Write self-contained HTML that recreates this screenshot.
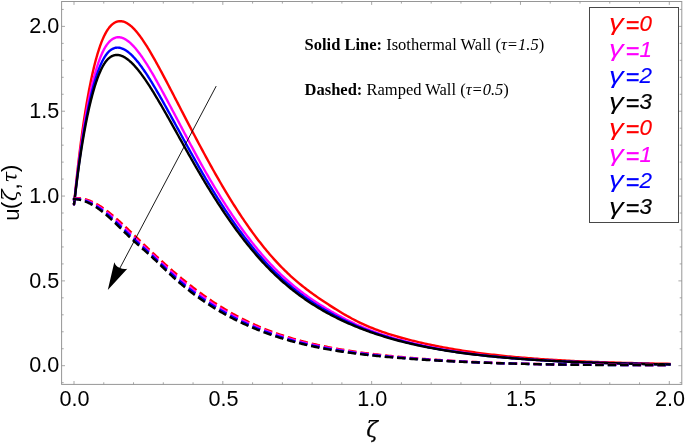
<!DOCTYPE html>
<html><head><meta charset="utf-8"><title>Velocity profile</title>
<style>html,body{margin:0;padding:0;background:#fff}svg{display:block}</style></head>
<body>
<svg width="685" height="443" viewBox="0 0 685 443">
<rect width="685" height="443" fill="#fff"/>
<g stroke="#969696" stroke-width="1" fill="none">
<rect x="61.6" y="1.5" width="620.1999999999999" height="382.9"/>
<path d="M74.00,384.4v-3.4M74.00,1.5v3.4M103.77,384.4v-2.1M103.77,1.5v2.1M133.53,384.4v-2.1M133.53,1.5v2.1M163.30,384.4v-2.1M163.30,1.5v2.1M193.06,384.4v-2.1M193.06,1.5v2.1M222.82,384.4v-3.4M222.82,1.5v3.4M252.59,384.4v-2.1M252.59,1.5v2.1M282.36,384.4v-2.1M282.36,1.5v2.1M312.12,384.4v-2.1M312.12,1.5v2.1M341.88,384.4v-2.1M341.88,1.5v2.1M371.65,384.4v-3.4M371.65,1.5v3.4M401.42,384.4v-2.1M401.42,1.5v2.1M431.18,384.4v-2.1M431.18,1.5v2.1M460.94,384.4v-2.1M460.94,1.5v2.1M490.71,384.4v-2.1M490.71,1.5v2.1M520.48,384.4v-3.4M520.48,1.5v3.4M550.24,384.4v-2.1M550.24,1.5v2.1M580.00,384.4v-2.1M580.00,1.5v2.1M609.77,384.4v-2.1M609.77,1.5v2.1M639.53,384.4v-2.1M639.53,1.5v2.1M669.30,384.4v-3.4M669.30,1.5v3.4M61.6,382.66h2.1M681.8,382.66h-2.1M61.6,365.70h3.4M681.8,365.70h-3.4M61.6,348.74h2.1M681.8,348.74h-2.1M61.6,331.77h2.1M681.8,331.77h-2.1M61.6,314.81h2.1M681.8,314.81h-2.1M61.6,297.84h2.1M681.8,297.84h-2.1M61.6,280.88h3.4M681.8,280.88h-3.4M61.6,263.91h2.1M681.8,263.91h-2.1M61.6,246.94h2.1M681.8,246.94h-2.1M61.6,229.98h2.1M681.8,229.98h-2.1M61.6,213.01h2.1M681.8,213.01h-2.1M61.6,196.05h3.4M681.8,196.05h-3.4M61.6,179.08h2.1M681.8,179.08h-2.1M61.6,162.12h2.1M681.8,162.12h-2.1M61.6,145.16h2.1M681.8,145.16h-2.1M61.6,128.19h2.1M681.8,128.19h-2.1M61.6,111.22h3.4M681.8,111.22h-3.4M61.6,94.26h2.1M681.8,94.26h-2.1M61.6,77.30h2.1M681.8,77.30h-2.1M61.6,60.33h2.1M681.8,60.33h-2.1M61.6,43.37h2.1M681.8,43.37h-2.1M61.6,26.40h3.4M681.8,26.40h-3.4M61.6,9.44h2.1M681.8,9.44h-2.1" stroke-width="0.8" stroke="#929292"/>
</g>
<g fill="none" stroke-width="2.4" stroke-linejoin="round" stroke-linecap="square">
<path d="M74.00,204.10 L74.00,204.19 L74.01,204.23 L74.02,204.19 L74.04,204.10 L74.06,203.95 L74.09,203.73 L74.12,203.46 L74.15,203.13 L74.19,202.74 L74.24,202.30 L74.29,201.80 L74.34,201.24 L74.40,200.64 L74.47,199.98 L74.54,199.27 L74.61,198.51 L74.69,197.70 L74.77,196.84 L74.86,195.94 L74.96,194.98 L75.05,193.99 L75.16,192.95 L75.27,191.86 L75.38,190.73 L75.49,189.56 L75.62,188.35 L75.74,187.10 L75.87,185.81 L76.01,184.48 L76.15,183.12 L76.30,181.72 L76.45,180.28 L76.60,178.81 L76.76,177.31 L76.93,175.78 L77.10,174.21 L77.27,172.62 L77.45,170.99 L77.64,169.34 L77.83,167.65 L78.02,165.95 L78.22,164.21 L78.42,162.45 L78.63,160.67 L78.84,158.87 L79.06,157.04 L79.28,155.20 L79.51,153.33 L79.74,151.44 L79.98,149.54 L80.22,147.62 L80.47,145.68 L80.72,143.73 L80.97,141.77 L81.23,139.79 L81.50,137.80 L81.77,135.80 L82.05,133.78 L82.33,131.76 L82.61,129.73 L82.90,127.70 L83.19,125.65 L83.49,123.60 L83.80,121.55 L84.10,119.49 L84.42,117.43 L84.74,115.37 L85.06,113.31 L85.39,111.25 L85.72,109.18 L86.06,107.13 L86.40,105.07 L86.74,103.02 L87.10,100.97 L87.45,98.93 L87.81,96.90 L88.18,94.87 L88.55,92.85 L88.93,90.84 L89.31,88.85 L89.69,86.86 L90.08,84.89 L90.48,82.93 L90.87,80.99 L91.28,79.06 L91.69,77.14 L92.10,75.25 L92.52,73.37 L92.94,71.51 L93.37,69.68 L93.80,67.86 L94.24,66.06 L94.68,64.29 L95.13,62.55 L95.58,60.82 L96.04,59.13 L96.50,57.46 L96.97,55.82 L97.44,54.20 L97.92,52.62 L98.40,51.07 L98.88,49.55 L99.37,48.06 L99.87,46.61 L100.37,45.19 L100.87,43.80 L101.38,42.45 L101.90,41.14 L102.41,39.87 L102.94,38.64 L103.47,37.44 L104.00,36.29 L104.54,35.18 L105.08,34.12 L105.63,33.09 L106.18,32.11 L106.74,31.17 L107.30,30.28 L107.87,29.42 L108.44,28.61 L109.01,27.84 L109.60,27.11 L110.18,26.43 L110.77,25.78 L111.37,25.18 L111.97,24.62 L112.57,24.11 L113.18,23.63 L113.80,23.20 L114.42,22.81 L115.04,22.46 L115.67,22.15 L116.30,21.88 L116.94,21.66 L117.59,21.48 L118.23,21.33 L118.89,21.23 L119.54,21.18 L120.21,21.16 L120.87,21.18 L121.55,21.25 L122.22,21.35 L122.90,21.50 L123.59,21.69 L124.28,21.92 L124.98,22.19 L125.68,22.50 L126.38,22.85 L127.09,23.25 L127.81,23.68 L128.53,24.16 L129.25,24.67 L129.98,25.23 L130.72,25.83 L131.46,26.46 L132.20,27.14 L132.95,27.86 L133.70,28.62 L134.46,29.41 L135.22,30.25 L135.99,31.13 L136.76,32.04 L137.54,32.99 L138.32,33.97 L139.11,34.99 L139.90,36.05 L140.70,37.14 L141.50,38.26 L142.31,39.41 L143.12,40.60 L143.93,41.82 L144.75,43.07 L145.58,44.34 L146.41,45.65 L147.24,46.99 L148.08,48.35 L148.93,49.74 L149.77,51.16 L150.63,52.60 L151.49,54.07 L152.35,55.56 L153.22,57.07 L154.09,58.61 L154.97,60.17 L155.85,61.75 L156.74,63.36 L157.63,64.98 L158.53,66.62 L159.43,68.28 L160.34,69.96 L161.25,71.65 L162.16,73.37 L163.08,75.09 L164.01,76.84 L164.94,78.60 L165.87,80.37 L166.81,82.16 L167.76,83.96 L168.71,85.77 L169.66,87.60 L170.62,89.44 L171.59,91.30 L172.55,93.16 L173.53,95.04 L174.51,96.93 L175.49,98.83 L176.48,100.74 L177.47,102.66 L178.47,104.60 L179.47,106.54 L180.47,108.49 L181.49,110.45 L182.50,112.41 L183.52,114.39 L184.55,116.37 L185.58,118.36 L186.62,120.36 L187.66,122.37 L188.70,124.38 L189.75,126.39 L190.81,128.42 L191.87,130.44 L192.93,132.48 L194.00,134.51 L195.07,136.55 L196.15,138.60 L197.23,140.64 L198.32,142.70 L199.42,144.75 L200.51,146.80 L201.62,148.86 L202.72,150.92 L203.84,152.98 L204.95,155.04 L206.07,157.10 L207.20,159.16 L208.33,161.23 L209.47,163.29 L210.61,165.34 L211.75,167.40 L212.90,169.46 L214.06,171.51 L215.22,173.56 L216.38,175.61 L217.55,177.66 L218.73,179.70 L219.91,181.74 L221.09,183.77 L222.28,185.80 L223.47,187.82 L224.67,189.84 L225.87,191.85 L227.08,193.85 L228.29,195.85 L229.51,197.85 L230.73,199.83 L231.96,201.81 L233.19,203.78 L234.43,205.74 L235.67,207.69 L236.92,209.63 L238.17,211.56 L239.42,213.49 L240.68,215.40 L241.95,217.30 L243.22,219.19 L244.49,221.07 L245.77,222.94 L247.06,224.80 L248.34,226.64 L249.64,228.47 L250.94,230.29 L252.24,232.10 L253.55,233.89 L254.86,235.66 L256.18,237.42 L257.50,239.17 L258.83,240.90 L260.16,242.61 L261.50,244.31 L262.84,246.00 L264.19,247.66 L265.54,249.31 L266.89,250.95 L268.25,252.56 L269.62,254.16 L270.99,255.75 L272.37,257.31 L273.75,258.86 L275.13,260.39 L276.52,261.90 L277.91,263.40 L279.31,264.87 L280.72,266.33 L282.13,267.77 L283.54,269.19 L284.96,270.60 L286.38,271.98 L287.81,273.34 L289.24,274.69 L290.68,276.01 L292.12,277.32 L293.57,278.61 L295.02,279.88 L296.47,281.13 L297.94,282.36 L299.40,283.58 L300.87,284.78 L302.35,285.97 L303.83,287.14 L305.31,288.30 L306.80,289.45 L308.30,290.58 L309.80,291.70 L311.30,292.80 L312.81,293.90 L314.33,294.98 L315.84,296.06 L317.37,297.12 L318.90,298.18 L320.43,299.23 L321.97,300.27 L323.51,301.30 L325.06,302.32 L326.61,303.34 L328.17,304.36 L329.73,305.37 L331.29,306.37 L332.86,307.37 L334.44,308.36 L336.02,309.35 L337.61,310.33 L339.20,311.30 L340.79,312.26 L342.39,313.21 L344.00,314.16 L345.61,315.09 L347.22,316.01 L348.84,316.92 L350.46,317.81 L352.09,318.69 L353.73,319.56 L355.36,320.41 L357.01,321.24 L358.66,322.06 L360.31,322.86 L361.96,323.64 L363.63,324.41 L365.29,325.16 L366.97,325.89 L368.64,326.60 L370.32,327.30 L372.01,327.98 L373.70,328.65 L375.40,329.31 L377.10,329.95 L378.80,330.58 L380.51,331.19 L382.23,331.79 L383.95,332.38 L385.67,332.96 L387.40,333.53 L389.13,334.09 L390.87,334.63 L392.62,335.17 L394.36,335.70 L396.12,336.22 L397.87,336.73 L399.64,337.24 L401.40,337.73 L403.18,338.22 L404.95,338.70 L406.73,339.18 L408.52,339.65 L410.31,340.11 L412.11,340.56 L413.91,341.01 L415.72,341.45 L417.53,341.89 L419.34,342.32 L421.16,342.74 L422.99,343.15 L424.82,343.56 L426.65,343.97 L428.49,344.37 L430.33,344.76 L432.18,345.14 L434.03,345.52 L435.89,345.90 L437.76,346.27 L439.62,346.63 L441.50,346.99 L443.37,347.34 L445.26,347.69 L447.14,348.03 L449.03,348.37 L450.93,348.70 L452.83,349.03 L454.74,349.35 L456.65,349.66 L458.56,349.98 L460.49,350.28 L462.41,350.59 L464.34,350.88 L466.28,351.18 L468.21,351.46 L470.16,351.75 L472.11,352.03 L474.06,352.30 L476.02,352.57 L477.98,352.84 L479.95,353.10 L481.93,353.35 L483.90,353.61 L485.89,353.86 L487.87,354.10 L489.87,354.34 L491.86,354.57 L493.86,354.81 L495.87,355.03 L497.88,355.26 L499.90,355.48 L501.92,355.69 L503.94,355.90 L505.97,356.11 L508.01,356.32 L510.05,356.52 L512.09,356.71 L514.14,356.91 L516.20,357.09 L518.26,357.28 L520.32,357.46 L522.39,357.64 L524.46,357.82 L526.54,357.99 L528.63,358.16 L530.71,358.32 L532.81,358.48 L534.90,358.64 L537.01,358.80 L539.11,358.95 L541.22,359.10 L543.34,359.24 L545.46,359.39 L547.59,359.53 L549.72,359.67 L551.85,359.80 L553.99,359.93 L556.14,360.06 L558.29,360.19 L560.45,360.31 L562.60,360.43 L564.77,360.55 L566.94,360.66 L569.11,360.77 L571.29,360.88 L573.47,360.99 L575.66,361.10 L577.86,361.20 L580.05,361.30 L582.26,361.40 L584.46,361.50 L586.68,361.59 L588.89,361.68 L591.11,361.77 L593.34,361.86 L595.57,361.94 L597.81,362.03 L600.05,362.11 L602.29,362.19 L604.55,362.27 L606.80,362.34 L609.06,362.42 L611.33,362.49 L613.59,362.56 L615.87,362.63 L618.15,362.70 L620.43,362.76 L622.72,362.83 L625.01,362.89 L627.31,362.95 L629.62,363.01 L631.92,363.07 L634.24,363.13 L636.55,363.19 L638.88,363.24 L641.20,363.29 L643.53,363.35 L645.87,363.40 L648.21,363.45 L650.56,363.50 L652.91,363.55 L655.27,363.60 L657.63,363.64 L659.99,363.69 L662.36,363.74 L664.74,363.78 L667.12,363.82 L669.50,363.87" stroke="#ff0000"/>
<path d="M74.00,204.10 L74.00,204.21 L74.01,204.27 L74.02,204.26 L74.04,204.19 L74.06,204.07 L74.09,203.89 L74.12,203.66 L74.15,203.37 L74.19,203.02 L74.24,202.63 L74.29,202.18 L74.34,201.68 L74.40,201.13 L74.47,200.53 L74.54,199.88 L74.61,199.18 L74.69,198.44 L74.77,197.65 L74.86,196.82 L74.96,195.95 L75.05,195.03 L75.16,194.06 L75.27,193.06 L75.38,192.02 L75.49,190.94 L75.62,189.82 L75.74,188.66 L75.87,187.46 L76.01,186.23 L76.15,184.97 L76.30,183.67 L76.45,182.34 L76.60,180.97 L76.76,179.58 L76.93,178.15 L77.10,176.70 L77.27,175.21 L77.45,173.70 L77.64,172.16 L77.83,170.60 L78.02,169.01 L78.22,167.40 L78.42,165.77 L78.63,164.11 L78.84,162.43 L79.06,160.73 L79.28,159.02 L79.51,157.28 L79.74,155.53 L79.98,153.76 L80.22,151.97 L80.47,150.17 L80.72,148.35 L80.97,146.53 L81.23,144.69 L81.50,142.84 L81.77,140.98 L82.05,139.11 L82.33,137.23 L82.61,135.34 L82.90,133.45 L83.19,131.55 L83.49,129.65 L83.80,127.74 L84.10,125.83 L84.42,123.91 L84.74,122.00 L85.06,120.09 L85.39,118.17 L85.72,116.26 L86.06,114.35 L86.40,112.45 L86.74,110.55 L87.10,108.65 L87.45,106.76 L87.81,104.88 L88.18,103.00 L88.55,101.13 L88.93,99.28 L89.31,97.43 L89.69,95.60 L90.08,93.78 L90.48,91.97 L90.87,90.17 L91.28,88.39 L91.69,86.63 L92.10,84.88 L92.52,83.16 L92.94,81.45 L93.37,79.76 L93.80,78.09 L94.24,76.44 L94.68,74.82 L95.13,73.21 L95.58,71.64 L96.04,70.08 L96.50,68.56 L96.97,67.06 L97.44,65.59 L97.92,64.15 L98.40,62.73 L98.88,61.35 L99.37,60.00 L99.87,58.68 L100.37,57.40 L100.87,56.15 L101.38,54.93 L101.90,53.76 L102.41,52.61 L102.94,51.51 L103.47,50.45 L104.00,49.42 L104.54,48.44 L105.08,47.49 L105.63,46.59 L106.18,45.73 L106.74,44.91 L107.30,44.14 L107.87,43.40 L108.44,42.71 L109.01,42.06 L109.60,41.45 L110.18,40.88 L110.77,40.36 L111.37,39.87 L111.97,39.43 L112.57,39.02 L113.18,38.66 L113.80,38.33 L114.42,38.05 L115.04,37.80 L115.67,37.60 L116.30,37.43 L116.94,37.31 L117.59,37.22 L118.23,37.17 L118.89,37.18 L119.54,37.23 L120.21,37.33 L120.87,37.47 L121.55,37.64 L122.22,37.86 L122.90,38.11 L123.59,38.40 L124.28,38.73 L124.98,39.09 L125.68,39.49 L126.38,39.94 L127.09,40.41 L127.81,40.93 L128.53,41.48 L129.25,42.07 L129.98,42.70 L130.72,43.36 L131.46,44.06 L132.20,44.79 L132.95,45.56 L133.70,46.36 L134.46,47.20 L135.22,48.08 L135.99,48.99 L136.76,49.93 L137.54,50.90 L138.32,51.91 L139.11,52.95 L139.90,54.02 L140.70,55.12 L141.50,56.25 L142.31,57.42 L143.12,58.61 L143.93,59.83 L144.75,61.07 L145.58,62.35 L146.41,63.65 L147.24,64.98 L148.08,66.33 L148.93,67.71 L149.77,69.11 L150.63,70.54 L151.49,71.99 L152.35,73.46 L153.22,74.95 L154.09,76.47 L154.97,78.00 L155.85,79.56 L156.74,81.14 L157.63,82.73 L158.53,84.35 L159.43,85.98 L160.34,87.63 L161.25,89.30 L162.16,90.98 L163.08,92.68 L164.01,94.40 L164.94,96.13 L165.87,97.87 L166.81,99.63 L167.76,101.40 L168.71,103.19 L169.66,104.98 L170.62,106.79 L171.59,108.62 L172.55,110.45 L173.53,112.30 L174.51,114.15 L175.49,116.02 L176.48,117.89 L177.47,119.78 L178.47,121.67 L179.47,123.58 L180.47,125.49 L181.49,127.41 L182.50,129.33 L183.52,131.27 L184.55,133.21 L185.58,135.15 L186.62,137.11 L187.66,139.06 L188.70,141.03 L189.75,142.99 L190.81,144.96 L191.87,146.94 L192.93,148.91 L194.00,150.89 L195.07,152.88 L196.15,154.86 L197.23,156.85 L198.32,158.83 L199.42,160.82 L200.51,162.81 L201.62,164.79 L202.72,166.78 L203.84,168.77 L204.95,170.75 L206.07,172.73 L207.20,174.71 L208.33,176.67 L209.47,178.61 L210.61,180.55 L211.75,182.48 L212.90,184.41 L214.06,186.33 L215.22,188.25 L216.38,190.17 L217.55,192.08 L218.73,193.99 L219.91,195.89 L221.09,197.79 L222.28,199.68 L223.47,201.57 L224.67,203.44 L225.87,205.32 L227.08,207.18 L228.29,209.04 L229.51,210.89 L230.73,212.74 L231.96,214.57 L233.19,216.40 L234.43,218.22 L235.67,220.03 L236.92,221.83 L238.17,223.62 L239.42,225.40 L240.68,227.18 L241.95,228.94 L243.22,230.69 L244.49,232.43 L245.77,234.16 L247.06,235.87 L248.34,237.58 L249.64,239.27 L250.94,240.95 L252.24,242.62 L253.55,244.27 L254.86,245.92 L256.18,247.54 L257.50,249.16 L258.83,250.76 L260.16,252.34 L261.50,253.91 L262.84,255.47 L264.19,257.01 L265.54,258.54 L266.89,260.05 L268.25,261.54 L269.62,263.02 L270.99,264.48 L272.37,265.93 L273.75,267.35 L275.13,268.77 L276.52,270.16 L277.91,271.55 L279.31,272.91 L280.72,274.26 L282.13,275.59 L283.54,276.91 L284.96,278.20 L286.38,279.49 L287.81,280.75 L289.24,282.00 L290.68,283.24 L292.12,284.46 L293.57,285.66 L295.02,286.84 L296.47,288.02 L297.94,289.17 L299.40,290.31 L300.87,291.44 L302.35,292.55 L303.83,293.65 L305.31,294.74 L306.80,295.81 L308.30,296.87 L309.80,297.92 L311.30,298.95 L312.81,299.98 L314.33,300.99 L315.84,301.99 L317.37,302.98 L318.90,303.96 L320.43,304.92 L321.97,305.88 L323.51,306.83 L325.06,307.77 L326.61,308.70 L328.17,309.62 L329.73,310.53 L331.29,311.43 L332.86,312.33 L334.44,313.22 L336.02,314.09 L337.61,314.96 L339.20,315.82 L340.79,316.67 L342.39,317.52 L344.00,318.37 L345.61,319.20 L347.22,320.03 L348.84,320.84 L350.46,321.65 L352.09,322.44 L353.73,323.21 L355.36,323.98 L357.01,324.73 L358.66,325.47 L360.31,326.20 L361.96,326.91 L363.63,327.61 L365.29,328.29 L366.97,328.97 L368.64,329.63 L370.32,330.28 L372.01,330.92 L373.70,331.55 L375.40,332.16 L377.10,332.77 L378.80,333.37 L380.51,333.95 L382.23,334.53 L383.95,335.09 L385.67,335.65 L387.40,336.20 L389.13,336.73 L390.87,337.26 L392.62,337.79 L394.36,338.30 L396.12,338.80 L397.87,339.30 L399.64,339.79 L401.40,340.27 L403.18,340.75 L404.95,341.21 L406.73,341.67 L408.52,342.13 L410.31,342.57 L412.11,343.01 L413.91,343.44 L415.72,343.87 L417.53,344.29 L419.34,344.70 L421.16,345.10 L422.99,345.50 L424.82,345.90 L426.65,346.28 L428.49,346.66 L430.33,347.03 L432.18,347.40 L434.03,347.76 L435.89,348.12 L437.76,348.47 L439.62,348.81 L441.50,349.15 L443.37,349.48 L445.26,349.81 L447.14,350.13 L449.03,350.44 L450.93,350.75 L452.83,351.06 L454.74,351.36 L456.65,351.65 L458.56,351.94 L460.49,352.22 L462.41,352.50 L464.34,352.78 L466.28,353.05 L468.21,353.31 L470.16,353.57 L472.11,353.82 L474.06,354.07 L476.02,354.32 L477.98,354.56 L479.95,354.80 L481.93,355.03 L483.90,355.26 L485.89,355.48 L487.87,355.70 L489.87,355.92 L491.86,356.13 L493.86,356.34 L495.87,356.55 L497.88,356.75 L499.90,356.94 L501.92,357.14 L503.94,357.33 L505.97,357.52 L508.01,357.70 L510.05,357.88 L512.09,358.05 L514.14,358.23 L516.20,358.40 L518.26,358.56 L520.32,358.73 L522.39,358.88 L524.46,359.03 L526.54,359.18 L528.63,359.33 L530.71,359.47 L532.81,359.61 L534.90,359.75 L537.01,359.89 L539.11,360.02 L541.22,360.15 L543.34,360.28 L545.46,360.40 L547.59,360.52 L549.72,360.64 L551.85,360.76 L553.99,360.87 L556.14,360.99 L558.29,361.10 L560.45,361.20 L562.60,361.31 L564.77,361.41 L566.94,361.51 L569.11,361.61 L571.29,361.71 L573.47,361.80 L575.66,361.89 L577.86,361.98 L580.05,362.07 L582.26,362.16 L584.46,362.24 L586.68,362.33 L588.89,362.41 L591.11,362.49 L593.34,362.56 L595.57,362.64 L597.81,362.71 L600.05,362.79 L602.29,362.86 L604.55,362.92 L606.80,362.99 L609.06,363.06 L611.33,363.12 L613.59,363.19 L615.87,363.25 L618.15,363.31 L620.43,363.37 L622.72,363.42 L625.01,363.48 L627.31,363.54 L629.62,363.59 L631.92,363.64 L634.24,363.70 L636.55,363.75 L638.88,363.80 L641.20,363.85 L643.53,363.89 L645.87,363.94 L648.21,363.99 L650.56,364.03 L652.91,364.08 L655.27,364.12 L657.63,364.16 L659.99,364.21 L662.36,364.25 L664.74,364.29 L667.12,364.33 L669.50,364.37" stroke="#ff00ff"/>
<path d="M74.00,204.10 L74.00,204.22 L74.01,204.29 L74.02,204.30 L74.04,204.25 L74.06,204.15 L74.09,204.00 L74.12,203.79 L74.15,203.52 L74.19,203.21 L74.24,202.84 L74.29,202.43 L74.34,201.96 L74.40,201.45 L74.47,200.89 L74.54,200.28 L74.61,199.63 L74.69,198.93 L74.77,198.19 L74.86,197.41 L74.96,196.58 L75.05,195.71 L75.16,194.80 L75.27,193.85 L75.38,192.87 L75.49,191.84 L75.62,190.78 L75.74,189.68 L75.87,188.55 L76.01,187.39 L76.15,186.19 L76.30,184.95 L76.45,183.69 L76.60,182.40 L76.76,181.07 L76.93,179.72 L77.10,178.34 L77.27,176.93 L77.45,175.49 L77.64,174.03 L77.83,172.55 L78.02,171.04 L78.22,169.51 L78.42,167.95 L78.63,166.38 L78.84,164.78 L79.06,163.17 L79.28,161.54 L79.51,159.89 L79.74,158.22 L79.98,156.54 L80.22,154.84 L80.47,153.13 L80.72,151.40 L80.97,149.67 L81.23,147.92 L81.50,146.16 L81.77,144.39 L82.05,142.61 L82.33,140.83 L82.61,139.04 L82.90,137.24 L83.19,135.44 L83.49,133.63 L83.80,131.82 L84.10,130.01 L84.42,128.19 L84.74,126.37 L85.06,124.56 L85.39,122.74 L85.72,120.93 L86.06,119.12 L86.40,117.31 L86.74,115.51 L87.10,113.71 L87.45,111.92 L87.81,110.14 L88.18,108.36 L88.55,106.60 L88.93,104.84 L89.31,103.09 L89.69,101.36 L90.08,99.64 L90.48,97.93 L90.87,96.23 L91.28,94.55 L91.69,92.89 L92.10,91.24 L92.52,89.61 L92.94,88.00 L93.37,86.41 L93.80,84.84 L94.24,83.28 L94.68,81.76 L95.13,80.25 L95.58,78.77 L96.04,77.31 L96.50,75.88 L96.97,74.48 L97.44,73.10 L97.92,71.75 L98.40,70.43 L98.88,69.14 L99.37,67.88 L99.87,66.65 L100.37,65.46 L100.87,64.29 L101.38,63.17 L101.90,62.08 L102.41,61.02 L102.94,60.00 L103.47,59.02 L104.00,58.08 L104.54,57.18 L105.08,56.31 L105.63,55.49 L106.18,54.71 L106.74,53.98 L107.30,53.28 L107.87,52.63 L108.44,52.01 L109.01,51.44 L109.60,50.91 L110.18,50.42 L110.77,49.97 L111.37,49.56 L111.97,49.19 L112.57,48.86 L113.18,48.57 L113.80,48.31 L114.42,48.10 L115.04,47.92 L115.67,47.79 L116.30,47.69 L116.94,47.63 L117.59,47.61 L118.23,47.62 L118.89,47.68 L119.54,47.78 L120.21,47.91 L120.87,48.09 L121.55,48.30 L122.22,48.54 L122.90,48.82 L123.59,49.14 L124.28,49.49 L124.98,49.88 L125.68,50.30 L126.38,50.76 L127.09,51.25 L127.81,51.78 L128.53,52.34 L129.25,52.93 L129.98,53.56 L130.72,54.22 L131.46,54.92 L132.20,55.65 L132.95,56.40 L133.70,57.20 L134.46,58.02 L135.22,58.88 L135.99,59.76 L136.76,60.68 L137.54,61.63 L138.32,62.60 L139.11,63.61 L139.90,64.65 L140.70,65.71 L141.50,66.81 L142.31,67.93 L143.12,69.08 L143.93,70.25 L144.75,71.46 L145.58,72.68 L146.41,73.94 L147.24,75.22 L148.08,76.52 L148.93,77.85 L149.77,79.20 L150.63,80.57 L151.49,81.96 L152.35,83.38 L153.22,84.82 L154.09,86.28 L154.97,87.76 L155.85,89.26 L156.74,90.78 L157.63,92.31 L158.53,93.87 L159.43,95.44 L160.34,97.03 L161.25,98.64 L162.16,100.27 L163.08,101.91 L164.01,103.56 L164.94,105.23 L165.87,106.92 L166.81,108.61 L167.76,110.33 L168.71,112.05 L169.66,113.79 L170.62,115.54 L171.59,117.30 L172.55,119.08 L173.53,120.86 L174.51,122.66 L175.49,124.46 L176.48,126.28 L177.47,128.10 L178.47,129.94 L179.47,131.78 L180.47,133.63 L181.49,135.49 L182.50,137.35 L183.52,139.22 L184.55,141.10 L185.58,142.98 L186.62,144.87 L187.66,146.76 L188.70,148.66 L189.75,150.56 L190.81,152.47 L191.87,154.37 L192.93,156.28 L194.00,158.20 L195.07,160.11 L196.15,162.03 L197.23,163.95 L198.32,165.86 L199.42,167.78 L200.51,169.70 L201.62,171.61 L202.72,173.53 L203.84,175.44 L204.95,177.35 L206.07,179.26 L207.20,181.17 L208.33,183.07 L209.47,184.95 L210.61,186.84 L211.75,188.72 L212.90,190.59 L214.06,192.46 L215.22,194.33 L216.38,196.19 L217.55,198.05 L218.73,199.90 L219.91,201.75 L221.09,203.59 L222.28,205.42 L223.47,207.25 L224.67,209.08 L225.87,210.89 L227.08,212.70 L228.29,214.50 L229.51,216.29 L230.73,218.08 L231.96,219.86 L233.19,221.63 L234.43,223.39 L235.67,225.14 L236.92,226.88 L238.17,228.61 L239.42,230.34 L240.68,232.05 L241.95,233.75 L243.22,235.44 L244.49,237.13 L245.77,238.80 L247.06,240.46 L248.34,242.10 L249.64,243.74 L250.94,245.36 L252.24,246.98 L253.55,248.57 L254.86,250.16 L256.18,251.73 L257.50,253.29 L258.83,254.84 L260.16,256.37 L261.50,257.89 L262.84,259.39 L264.19,260.88 L265.54,262.35 L266.89,263.81 L268.25,265.25 L269.62,266.68 L270.99,268.09 L272.37,269.49 L273.75,270.87 L275.13,272.23 L276.52,273.58 L277.91,274.92 L279.31,276.24 L280.72,277.54 L282.13,278.82 L283.54,280.10 L284.96,281.35 L286.38,282.59 L287.81,283.82 L289.24,285.03 L290.68,286.23 L292.12,287.41 L293.57,288.58 L295.02,289.73 L296.47,290.87 L297.94,291.99 L299.40,293.10 L300.87,294.19 L302.35,295.28 L303.83,296.35 L305.31,297.40 L306.80,298.45 L308.30,299.48 L309.80,300.49 L311.30,301.50 L312.81,302.49 L314.33,303.47 L315.84,304.44 L317.37,305.40 L318.90,306.35 L320.43,307.28 L321.97,308.21 L323.51,309.12 L325.06,310.02 L326.61,310.91 L328.17,311.80 L329.73,312.67 L331.29,313.53 L332.86,314.38 L334.44,315.22 L336.02,316.06 L337.61,316.88 L339.20,317.69 L340.79,318.49 L342.39,319.29 L344.00,320.08 L345.61,320.87 L347.22,321.64 L348.84,322.40 L350.46,323.15 L352.09,323.89 L353.73,324.62 L355.36,325.33 L357.01,326.04 L358.66,326.74 L360.31,327.42 L361.96,328.10 L363.63,328.76 L365.29,329.41 L366.97,330.05 L368.64,330.69 L370.32,331.31 L372.01,331.92 L373.70,332.52 L375.40,333.12 L377.10,333.70 L378.80,334.28 L380.51,334.84 L382.23,335.40 L383.95,335.95 L385.67,336.49 L387.40,337.02 L389.13,337.54 L390.87,338.06 L392.62,338.57 L394.36,339.07 L396.12,339.56 L397.87,340.04 L399.64,340.52 L401.40,340.99 L403.18,341.45 L404.95,341.90 L406.73,342.35 L408.52,342.79 L410.31,343.23 L412.11,343.65 L413.91,344.07 L415.72,344.49 L417.53,344.89 L419.34,345.29 L421.16,345.69 L422.99,346.07 L424.82,346.45 L426.65,346.83 L428.49,347.20 L430.33,347.56 L432.18,347.92 L434.03,348.27 L435.89,348.61 L437.76,348.95 L439.62,349.28 L441.50,349.61 L443.37,349.93 L445.26,350.25 L447.14,350.56 L449.03,350.86 L450.93,351.16 L452.83,351.46 L454.74,351.75 L456.65,352.03 L458.56,352.31 L460.49,352.58 L462.41,352.85 L464.34,353.12 L466.28,353.38 L468.21,353.63 L470.16,353.88 L472.11,354.13 L474.06,354.37 L476.02,354.61 L477.98,354.84 L479.95,355.07 L481.93,355.29 L483.90,355.52 L485.89,355.73 L487.87,355.94 L489.87,356.15 L491.86,356.36 L493.86,356.56 L495.87,356.76 L497.88,356.95 L499.90,357.14 L501.92,357.33 L503.94,357.51 L505.97,357.69 L508.01,357.87 L510.05,358.05 L512.09,358.22 L514.14,358.38 L516.20,358.55 L518.26,358.71 L520.32,358.87 L522.39,359.02 L524.46,359.17 L526.54,359.32 L528.63,359.46 L530.71,359.60 L532.81,359.74 L534.90,359.87 L537.01,360.01 L539.11,360.14 L541.22,360.27 L543.34,360.39 L545.46,360.51 L547.59,360.63 L549.72,360.75 L551.85,360.87 L553.99,360.98 L556.14,361.09 L558.29,361.20 L560.45,361.30 L562.60,361.41 L564.77,361.51 L566.94,361.61 L569.11,361.70 L571.29,361.80 L573.47,361.89 L575.66,361.98 L577.86,362.07 L580.05,362.16 L582.26,362.24 L584.46,362.33 L586.68,362.41 L588.89,362.49 L591.11,362.57 L593.34,362.64 L595.57,362.72 L597.81,362.79 L600.05,362.86 L602.29,362.93 L604.55,363.00 L606.80,363.06 L609.06,363.13 L611.33,363.19 L613.59,363.26 L615.87,363.32 L618.15,363.38 L620.43,363.43 L622.72,363.49 L625.01,363.55 L627.31,363.60 L629.62,363.65 L631.92,363.71 L634.24,363.76 L636.55,363.81 L638.88,363.86 L641.20,363.91 L643.53,363.95 L645.87,364.00 L648.21,364.05 L650.56,364.09 L652.91,364.13 L655.27,364.18 L657.63,364.22 L659.99,364.26 L662.36,364.30 L664.74,364.34 L667.12,364.38 L669.50,364.42" stroke="#0000ff"/>
<path d="M74.00,204.10 L74.00,204.23 L74.01,204.31 L74.02,204.33 L74.04,204.30 L74.06,204.21 L74.09,204.07 L74.12,203.88 L74.15,203.63 L74.19,203.34 L74.24,203.00 L74.29,202.61 L74.34,202.17 L74.40,201.68 L74.47,201.15 L74.54,200.57 L74.61,199.94 L74.69,199.28 L74.77,198.57 L74.86,197.82 L74.96,197.03 L75.05,196.20 L75.16,195.33 L75.27,194.42 L75.38,193.47 L75.49,192.49 L75.62,191.47 L75.74,190.41 L75.87,189.33 L76.01,188.20 L76.15,187.05 L76.30,185.87 L76.45,184.65 L76.60,183.40 L76.76,182.13 L76.93,180.83 L77.10,179.50 L77.27,178.14 L77.45,176.76 L77.64,175.36 L77.83,173.93 L78.02,172.47 L78.22,171.00 L78.42,169.50 L78.63,167.99 L78.84,166.45 L79.06,164.90 L79.28,163.32 L79.51,161.73 L79.74,160.13 L79.98,158.51 L80.22,156.87 L80.47,155.23 L80.72,153.57 L80.97,151.89 L81.23,150.21 L81.50,148.52 L81.77,146.82 L82.05,145.11 L82.33,143.39 L82.61,141.66 L82.90,139.93 L83.19,138.20 L83.49,136.46 L83.80,134.72 L84.10,132.97 L84.42,131.23 L84.74,129.48 L85.06,127.73 L85.39,125.99 L85.72,124.24 L86.06,122.50 L86.40,120.77 L86.74,119.04 L87.10,117.31 L87.45,115.59 L87.81,113.88 L88.18,112.17 L88.55,110.47 L88.93,108.79 L89.31,107.11 L89.69,105.45 L90.08,103.80 L90.48,102.16 L90.87,100.53 L91.28,98.92 L91.69,97.33 L92.10,95.75 L92.52,94.19 L92.94,92.65 L93.37,91.13 L93.80,89.62 L94.24,88.14 L94.68,86.68 L95.13,85.24 L95.58,83.83 L96.04,82.44 L96.50,81.08 L96.97,79.74 L97.44,78.43 L97.92,77.14 L98.40,75.89 L98.88,74.66 L99.37,73.47 L99.87,72.31 L100.37,71.17 L100.87,70.07 L101.38,69.01 L101.90,67.98 L102.41,66.98 L102.94,66.03 L103.47,65.11 L104.00,64.22 L104.54,63.38 L105.08,62.57 L105.63,61.81 L106.18,61.09 L106.74,60.41 L107.30,59.77 L107.87,59.17 L108.44,58.61 L109.01,58.10 L109.60,57.62 L110.18,57.19 L110.77,56.79 L111.37,56.43 L111.97,56.12 L112.57,55.84 L113.18,55.60 L113.80,55.40 L114.42,55.23 L115.04,55.11 L115.67,55.02 L116.30,54.97 L116.94,54.96 L117.59,54.98 L118.23,55.04 L118.89,55.13 L119.54,55.26 L120.21,55.43 L120.87,55.63 L121.55,55.87 L122.22,56.14 L122.90,56.44 L123.59,56.78 L124.28,57.16 L124.98,57.56 L125.68,58.00 L126.38,58.47 L127.09,58.98 L127.81,59.52 L128.53,60.09 L129.25,60.69 L129.98,61.32 L130.72,61.98 L131.46,62.68 L132.20,63.40 L132.95,64.16 L133.70,64.94 L134.46,65.76 L135.22,66.60 L135.99,67.48 L136.76,68.38 L137.54,69.31 L138.32,70.27 L139.11,71.26 L139.90,72.27 L140.70,73.32 L141.50,74.38 L142.31,75.48 L143.12,76.60 L143.93,77.75 L144.75,78.93 L145.58,80.12 L146.41,81.35 L147.24,82.59 L148.08,83.86 L148.93,85.16 L149.77,86.47 L150.63,87.81 L151.49,89.17 L152.35,90.55 L153.22,91.95 L154.09,93.37 L154.97,94.82 L155.85,96.28 L156.74,97.76 L157.63,99.26 L158.53,100.77 L159.43,102.31 L160.34,103.86 L161.25,105.43 L162.16,107.01 L163.08,108.61 L164.01,110.23 L164.94,111.86 L165.87,113.50 L166.81,115.16 L167.76,116.84 L168.71,118.52 L169.66,120.22 L170.62,121.93 L171.59,123.66 L172.55,125.39 L173.53,127.13 L174.51,128.89 L175.49,130.65 L176.48,132.43 L177.47,134.21 L178.47,136.01 L179.47,137.81 L180.47,139.61 L181.49,141.43 L182.50,143.25 L183.52,145.08 L184.55,146.92 L185.58,148.76 L186.62,150.60 L187.66,152.45 L188.70,154.30 L189.75,156.16 L190.81,158.02 L191.87,159.89 L192.93,161.75 L194.00,163.62 L195.07,165.49 L196.15,167.36 L197.23,169.23 L198.32,171.10 L199.42,172.97 L200.51,174.84 L201.62,176.71 L202.72,178.57 L203.84,180.44 L204.95,182.30 L206.07,184.15 L207.20,186.01 L208.33,187.86 L209.47,189.71 L210.61,191.55 L211.75,193.39 L212.90,195.23 L214.06,197.06 L215.22,198.89 L216.38,200.71 L217.55,202.53 L218.73,204.34 L219.91,206.14 L221.09,207.94 L222.28,209.73 L223.47,211.52 L224.67,213.30 L225.87,215.07 L227.08,216.84 L228.29,218.59 L229.51,220.34 L230.73,222.09 L231.96,223.82 L233.19,225.54 L234.43,227.26 L235.67,228.97 L236.92,230.67 L238.17,232.36 L239.42,234.03 L240.68,235.70 L241.95,237.36 L243.22,239.01 L244.49,240.65 L245.77,242.28 L247.06,243.89 L248.34,245.50 L249.64,247.09 L250.94,248.67 L252.24,250.24 L253.55,251.80 L254.86,253.34 L256.18,254.87 L257.50,256.39 L258.83,257.90 L260.16,259.39 L261.50,260.87 L262.84,262.33 L264.19,263.78 L265.54,265.21 L266.89,266.63 L268.25,268.04 L269.62,269.43 L270.99,270.80 L272.37,272.16 L273.75,273.51 L275.13,274.83 L276.52,276.15 L277.91,277.45 L279.31,278.73 L280.72,280.00 L282.13,281.25 L283.54,282.49 L284.96,283.71 L286.38,284.92 L287.81,286.12 L289.24,287.30 L290.68,288.47 L292.12,289.62 L293.57,290.76 L295.02,291.89 L296.47,293.00 L297.94,294.10 L299.40,295.19 L300.87,296.26 L302.35,297.32 L303.83,298.37 L305.31,299.40 L306.80,300.42 L308.30,301.43 L309.80,302.42 L311.30,303.41 L312.81,304.38 L314.33,305.34 L315.84,306.28 L317.37,307.22 L318.90,308.14 L320.43,309.05 L321.97,309.95 L323.51,310.84 L325.06,311.71 L326.61,312.58 L328.17,313.43 L329.73,314.27 L331.29,315.10 L332.86,315.92 L334.44,316.73 L336.02,317.53 L337.61,318.32 L339.20,319.09 L340.79,319.86 L342.39,320.62 L344.00,321.37 L345.61,322.10 L347.22,322.83 L348.84,323.55 L350.46,324.25 L352.09,324.95 L353.73,325.64 L355.36,326.32 L357.01,326.99 L358.66,327.65 L360.31,328.30 L361.96,328.94 L363.63,329.58 L365.29,330.20 L366.97,330.82 L368.64,331.42 L370.32,332.02 L372.01,332.61 L373.70,333.20 L375.40,333.77 L377.10,334.34 L378.80,334.89 L380.51,335.44 L382.23,335.98 L383.95,336.52 L385.67,337.04 L387.40,337.56 L389.13,338.07 L390.87,338.57 L392.62,339.07 L394.36,339.56 L396.12,340.03 L397.87,340.51 L399.64,340.97 L401.40,341.43 L403.18,341.88 L404.95,342.33 L406.73,342.76 L408.52,343.19 L410.31,343.62 L412.11,344.03 L413.91,344.44 L415.72,344.84 L417.53,345.24 L419.34,345.63 L421.16,346.01 L422.99,346.39 L424.82,346.76 L426.65,347.13 L428.49,347.49 L430.33,347.84 L432.18,348.19 L434.03,348.53 L435.89,348.86 L437.76,349.19 L439.62,349.52 L441.50,349.84 L443.37,350.15 L445.26,350.46 L447.14,350.76 L449.03,351.06 L450.93,351.35 L452.83,351.63 L454.74,351.92 L456.65,352.19 L458.56,352.46 L460.49,352.73 L462.41,352.99 L464.34,353.25 L466.28,353.50 L468.21,353.75 L470.16,354.00 L472.11,354.24 L474.06,354.47 L476.02,354.70 L477.98,354.93 L479.95,355.15 L481.93,355.37 L483.90,355.59 L485.89,355.80 L487.87,356.01 L489.87,356.21 L491.86,356.41 L493.86,356.61 L495.87,356.80 L497.88,356.99 L499.90,357.18 L501.92,357.36 L503.94,357.54 L505.97,357.72 L508.01,357.89 L510.05,358.06 L512.09,358.23 L514.14,358.39 L516.20,358.55 L518.26,358.71 L520.32,358.87 L522.39,359.02 L524.46,359.17 L526.54,359.32 L528.63,359.46 L530.71,359.60 L532.81,359.74 L534.90,359.87 L537.01,360.01 L539.11,360.14 L541.22,360.27 L543.34,360.39 L545.46,360.51 L547.59,360.63 L549.72,360.75 L551.85,360.87 L553.99,360.98 L556.14,361.09 L558.29,361.20 L560.45,361.30 L562.60,361.41 L564.77,361.51 L566.94,361.61 L569.11,361.70 L571.29,361.80 L573.47,361.89 L575.66,361.98 L577.86,362.07 L580.05,362.16 L582.26,362.24 L584.46,362.33 L586.68,362.41 L588.89,362.49 L591.11,362.57 L593.34,362.64 L595.57,362.72 L597.81,362.79 L600.05,362.86 L602.29,362.93 L604.55,363.00 L606.80,363.06 L609.06,363.13 L611.33,363.19 L613.59,363.26 L615.87,363.32 L618.15,363.38 L620.43,363.43 L622.72,363.49 L625.01,363.55 L627.31,363.60 L629.62,363.65 L631.92,363.71 L634.24,363.76 L636.55,363.81 L638.88,363.86 L641.20,363.91 L643.53,363.95 L645.87,364.00 L648.21,364.05 L650.56,364.09 L652.91,364.13 L655.27,364.18 L657.63,364.22 L659.99,364.26 L662.36,364.30 L664.74,364.34 L667.12,364.38 L669.50,364.42" stroke="#000000"/>
<path d="M74.00,199.30 L74.00,199.28 L74.01,199.26 L74.02,199.23 L74.04,199.21 L74.06,199.18 L74.09,199.16 L74.12,199.13 L74.15,199.10 L74.19,199.07 L74.24,199.04 L74.29,199.01 L74.34,198.98 L74.40,198.95 L74.47,198.91 L74.54,198.88 L74.61,198.85 L74.69,198.82 L74.77,198.78 L74.86,198.75 L74.96,198.72 L75.05,198.69 L75.16,198.66 L75.27,198.63 L75.38,198.60 L75.49,198.57 L75.62,198.54 L75.74,198.51 L75.87,198.48 L76.01,198.46 L76.15,198.43 L76.30,198.41 L76.45,198.39 L76.60,198.36 L76.76,198.35 L76.93,198.33 L77.10,198.31 L77.27,198.30 L77.45,198.28 L77.64,198.27 L77.83,198.26 L78.02,198.26 L78.22,198.25 L78.42,198.25 L78.63,198.25 L78.84,198.25 L79.06,198.26 L79.28,198.27 L79.51,198.28 L79.74,198.29 L79.98,198.31 L80.22,198.33 L80.47,198.35 L80.72,198.37 L80.97,198.40 L81.23,198.44 L81.50,198.47 L81.77,198.51 L82.05,198.55 L82.33,198.60 L82.61,198.65 L82.90,198.70 L83.19,198.76 L83.49,198.82 L83.80,198.89 L84.10,198.96 L84.42,199.04 L84.74,199.12 L85.06,199.20 L85.39,199.29 L85.72,199.38 L86.06,199.48 L86.40,199.58 L86.74,199.69 L87.10,199.80 L87.45,199.92 L87.81,200.04 L88.18,200.17 L88.55,200.31 L88.93,200.45 L89.31,200.59 L89.69,200.74 L90.08,200.90 L90.48,201.06 L90.87,201.23 L91.28,201.40 L91.69,201.59 L92.10,201.77 L92.52,201.97 L92.94,202.16 L93.37,202.37 L93.80,202.58 L94.24,202.80 L94.68,203.03 L95.13,203.26 L95.58,203.50 L96.04,203.75 L96.50,204.00 L96.97,204.26 L97.44,204.53 L97.92,204.81 L98.40,205.09 L98.88,205.38 L99.37,205.68 L99.87,205.99 L100.37,206.30 L100.87,206.62 L101.38,206.95 L101.90,207.29 L102.41,207.64 L102.94,207.99 L103.47,208.35 L104.00,208.72 L104.54,209.10 L105.08,209.49 L105.63,209.89 L106.18,210.30 L106.74,210.71 L107.30,211.14 L107.87,211.57 L108.44,212.01 L109.01,212.46 L109.60,212.92 L110.18,213.39 L110.77,213.87 L111.37,214.36 L111.97,214.86 L112.57,215.36 L113.18,215.88 L113.80,216.40 L114.42,216.93 L115.04,217.47 L115.67,218.02 L116.30,218.58 L116.94,219.14 L117.59,219.71 L118.23,220.29 L118.89,220.88 L119.54,221.47 L120.21,222.08 L120.87,222.68 L121.55,223.30 L122.22,223.93 L122.90,224.56 L123.59,225.19 L124.28,225.84 L124.98,226.49 L125.68,227.15 L126.38,227.81 L127.09,228.48 L127.81,229.16 L128.53,229.84 L129.25,230.53 L129.98,231.22 L130.72,231.92 L131.46,232.62 L132.20,233.33 L132.95,234.05 L133.70,234.77 L134.46,235.50 L135.22,236.23 L135.99,236.96 L136.76,237.71 L137.54,238.45 L138.32,239.20 L139.11,239.96 L139.90,240.71 L140.70,241.48 L141.50,242.24 L142.31,243.02 L143.12,243.79 L143.93,244.57 L144.75,245.35 L145.58,246.14 L146.41,246.93 L147.24,247.72 L148.08,248.51 L148.93,249.31 L149.77,250.12 L150.63,250.92 L151.49,251.73 L152.35,252.54 L153.22,253.35 L154.09,254.16 L154.97,254.98 L155.85,255.80 L156.74,256.62 L157.63,257.44 L158.53,258.27 L159.43,259.10 L160.34,259.92 L161.25,260.75 L162.16,261.58 L163.08,262.42 L164.01,263.25 L164.94,264.08 L165.87,264.92 L166.81,265.76 L167.76,266.59 L168.71,267.43 L169.66,268.27 L170.62,269.10 L171.59,269.94 L172.55,270.78 L173.53,271.62 L174.51,272.46 L175.49,273.29 L176.48,274.13 L177.47,274.97 L178.47,275.81 L179.47,276.64 L180.47,277.48 L181.49,278.31 L182.50,279.14 L183.52,279.97 L184.55,280.80 L185.58,281.63 L186.62,282.46 L187.66,283.29 L188.70,284.11 L189.75,284.93 L190.81,285.75 L191.87,286.57 L192.93,287.39 L194.00,288.20 L195.07,289.02 L196.15,289.83 L197.23,290.63 L198.32,291.44 L199.42,292.24 L200.51,293.04 L201.62,293.84 L202.72,294.63 L203.84,295.43 L204.95,296.21 L206.07,297.00 L207.20,297.78 L208.33,298.56 L209.47,299.34 L210.61,300.11 L211.75,300.88 L212.90,301.64 L214.06,302.40 L215.22,303.16 L216.38,303.91 L217.55,304.66 L218.73,305.40 L219.91,306.14 L221.09,306.88 L222.28,307.61 L223.47,308.34 L224.67,309.06 L225.87,309.78 L227.08,310.49 L228.29,311.20 L229.51,311.90 L230.73,312.60 L231.96,313.30 L233.19,313.98 L234.43,314.67 L235.67,315.34 L236.92,316.01 L238.17,316.68 L239.42,317.34 L240.68,317.99 L241.95,318.64 L243.22,319.28 L244.49,319.92 L245.77,320.55 L247.06,321.17 L248.34,321.79 L249.64,322.40 L250.94,323.01 L252.24,323.61 L253.55,324.20 L254.86,324.79 L256.18,325.37 L257.50,325.94 L258.83,326.51 L260.16,327.07 L261.50,327.63 L262.84,328.18 L264.19,328.72 L265.54,329.26 L266.89,329.80 L268.25,330.32 L269.62,330.84 L270.99,331.36 L272.37,331.87 L273.75,332.37 L275.13,332.87 L276.52,333.36 L277.91,333.84 L279.31,334.32 L280.72,334.80 L282.13,335.26 L283.54,335.73 L284.96,336.18 L286.38,336.63 L287.81,337.08 L289.24,337.52 L290.68,337.95 L292.12,338.38 L293.57,338.80 L295.02,339.22 L296.47,339.63 L297.94,340.04 L299.40,340.44 L300.87,340.83 L302.35,341.22 L303.83,341.61 L305.31,341.99 L306.80,342.36 L308.30,342.73 L309.80,343.10 L311.30,343.46 L312.81,343.81 L314.33,344.16 L315.84,344.51 L317.37,344.85 L318.90,345.18 L320.43,345.51 L321.97,345.84 L323.51,346.16 L325.06,346.48 L326.61,346.79 L328.17,347.10 L329.73,347.40 L331.29,347.70 L332.86,347.99 L334.44,348.28 L336.02,348.57 L337.61,348.85 L339.20,349.13 L340.79,349.41 L342.39,349.68 L344.00,349.94 L345.61,350.21 L347.22,350.46 L348.84,350.72 L350.46,350.97 L352.09,351.22 L353.73,351.46 L355.36,351.70 L357.01,351.94 L358.66,352.17 L360.31,352.40 L361.96,352.63 L363.63,352.85 L365.29,353.07 L366.97,353.29 L368.64,353.51 L370.32,353.72 L372.01,353.92 L373.70,354.13 L375.40,354.33 L377.10,354.53 L378.80,354.73 L380.51,354.92 L382.23,355.11 L383.95,355.30 L385.67,355.48 L387.40,355.67 L389.13,355.85 L390.87,356.02 L392.62,356.20 L394.36,356.37 L396.12,356.54 L397.87,356.71 L399.64,356.88 L401.40,357.04 L403.18,357.20 L404.95,357.36 L406.73,357.52 L408.52,357.67 L410.31,357.83 L412.11,357.98 L413.91,358.13 L415.72,358.28 L417.53,358.42 L419.34,358.57 L421.16,358.71 L422.99,358.85 L424.82,358.99 L426.65,359.13 L428.49,359.26 L430.33,359.40 L432.18,359.53 L434.03,359.66 L435.89,359.79 L437.76,359.91 L439.62,360.04 L441.50,360.16 L443.37,360.28 L445.26,360.40 L447.14,360.51 L449.03,360.63 L450.93,360.74 L452.83,360.86 L454.74,360.97 L456.65,361.07 L458.56,361.18 L460.49,361.28 L462.41,361.39 L464.34,361.49 L466.28,361.59 L468.21,361.69 L470.16,361.78 L472.11,361.88 L474.06,361.97 L476.02,362.06 L477.98,362.15 L479.95,362.24 L481.93,362.32 L483.90,362.41 L485.89,362.49 L487.87,362.57 L489.87,362.65 L491.86,362.73 L493.86,362.80 L495.87,362.88 L497.88,362.95 L499.90,363.02 L501.92,363.09 L503.94,363.16 L505.97,363.23 L508.01,363.29 L510.05,363.35 L512.09,363.42 L514.14,363.48 L516.20,363.53 L518.26,363.59 L520.32,363.65 L522.39,363.70 L524.46,363.75 L526.54,363.80 L528.63,363.85 L530.71,363.90 L532.81,363.94 L534.90,363.99 L537.01,364.03 L539.11,364.07 L541.22,364.11 L543.34,364.15 L545.46,364.18 L547.59,364.22 L549.72,364.25 L551.85,364.29 L553.99,364.32 L556.14,364.35 L558.29,364.37 L560.45,364.40 L562.60,364.43 L564.77,364.45 L566.94,364.47 L569.11,364.50 L571.29,364.52 L573.47,364.54 L575.66,364.56 L577.86,364.58 L580.05,364.60 L582.26,364.61 L584.46,364.63 L586.68,364.65 L588.89,364.66 L591.11,364.68 L593.34,364.69 L595.57,364.70 L597.81,364.72 L600.05,364.73 L602.29,364.74 L604.55,364.75 L606.80,364.77 L609.06,364.78 L611.33,364.79 L613.59,364.80 L615.87,364.81 L618.15,364.82 L620.43,364.84 L622.72,364.85 L625.01,364.86 L627.31,364.87 L629.62,364.88 L631.92,364.89 L634.24,364.91 L636.55,364.92 L638.88,364.93 L641.20,364.95 L643.53,364.96 L645.87,364.98 L648.21,364.99 L650.56,365.01 L652.91,365.02 L655.27,365.04 L657.63,365.06 L659.99,365.08 L662.36,365.10 L664.74,365.12 L667.12,365.14 L669.50,365.16" stroke="#ff0000" stroke-dasharray="6 6.4"/>
<path d="M74.00,199.30 L74.00,199.29 L74.01,199.28 L74.02,199.27 L74.04,199.25 L74.06,199.24 L74.09,199.22 L74.12,199.20 L74.15,199.19 L74.19,199.17 L74.24,199.15 L74.29,199.13 L74.34,199.11 L74.40,199.09 L74.47,199.07 L74.54,199.04 L74.61,199.02 L74.69,199.00 L74.77,198.98 L74.86,198.96 L74.96,198.94 L75.05,198.92 L75.16,198.90 L75.27,198.88 L75.38,198.86 L75.49,198.84 L75.62,198.82 L75.74,198.80 L75.87,198.79 L76.01,198.77 L76.15,198.76 L76.30,198.75 L76.45,198.74 L76.60,198.73 L76.76,198.72 L76.93,198.71 L77.10,198.71 L77.27,198.71 L77.45,198.70 L77.64,198.70 L77.83,198.71 L78.02,198.71 L78.22,198.72 L78.42,198.73 L78.63,198.74 L78.84,198.76 L79.06,198.77 L79.28,198.79 L79.51,198.82 L79.74,198.84 L79.98,198.87 L80.22,198.90 L80.47,198.94 L80.72,198.98 L80.97,199.02 L81.23,199.06 L81.50,199.11 L81.77,199.16 L82.05,199.22 L82.33,199.28 L82.61,199.34 L82.90,199.41 L83.19,199.48 L83.49,199.56 L83.80,199.64 L84.10,199.72 L84.42,199.81 L84.74,199.90 L85.06,200.00 L85.39,200.10 L85.72,200.21 L86.06,200.32 L86.40,200.44 L86.74,200.56 L87.10,200.69 L87.45,200.82 L87.81,200.96 L88.18,201.11 L88.55,201.25 L88.93,201.41 L89.31,201.57 L89.69,201.74 L90.08,201.91 L90.48,202.09 L90.87,202.27 L91.28,202.46 L91.69,202.66 L92.10,202.86 L92.52,203.07 L92.94,203.29 L93.37,203.51 L93.80,203.74 L94.24,203.98 L94.68,204.22 L95.13,204.47 L95.58,204.73 L96.04,204.99 L96.50,205.26 L96.97,205.54 L97.44,205.83 L97.92,206.12 L98.40,206.42 L98.88,206.73 L99.37,207.05 L99.87,207.38 L100.37,207.71 L100.87,208.05 L101.38,208.40 L101.90,208.76 L102.41,209.12 L102.94,209.50 L103.47,209.88 L104.00,210.27 L104.54,210.67 L105.08,211.08 L105.63,211.50 L106.18,211.93 L106.74,212.36 L107.30,212.81 L107.87,213.27 L108.44,213.73 L109.01,214.20 L109.60,214.69 L110.18,215.18 L110.77,215.68 L111.37,216.19 L111.97,216.71 L112.57,217.24 L113.18,217.78 L113.80,218.32 L114.42,218.87 L115.04,219.44 L115.67,220.00 L116.30,220.58 L116.94,221.17 L117.59,221.76 L118.23,222.36 L118.89,222.96 L119.54,223.57 L120.21,224.19 L120.87,224.82 L121.55,225.45 L122.22,226.09 L122.90,226.73 L123.59,227.38 L124.28,228.03 L124.98,228.70 L125.68,229.36 L126.38,230.03 L127.09,230.71 L127.81,231.39 L128.53,232.07 L129.25,232.76 L129.98,233.45 L130.72,234.15 L131.46,234.85 L132.20,235.56 L132.95,236.26 L133.70,236.97 L134.46,237.69 L135.22,238.41 L135.99,239.13 L136.76,239.85 L137.54,240.58 L138.32,241.30 L139.11,242.04 L139.90,242.77 L140.70,243.51 L141.50,244.25 L142.31,245.00 L143.12,245.75 L143.93,246.50 L144.75,247.26 L145.58,248.03 L146.41,248.79 L147.24,249.57 L148.08,250.34 L148.93,251.13 L149.77,251.91 L150.63,252.71 L151.49,253.50 L152.35,254.31 L153.22,255.12 L154.09,255.93 L154.97,256.75 L155.85,257.58 L156.74,258.41 L157.63,259.24 L158.53,260.08 L159.43,260.92 L160.34,261.76 L161.25,262.61 L162.16,263.46 L163.08,264.31 L164.01,265.16 L164.94,266.01 L165.87,266.87 L166.81,267.73 L167.76,268.59 L168.71,269.44 L169.66,270.30 L170.62,271.16 L171.59,272.02 L172.55,272.88 L173.53,273.73 L174.51,274.59 L175.49,275.44 L176.48,276.29 L177.47,277.14 L178.47,277.99 L179.47,278.84 L180.47,279.68 L181.49,280.52 L182.50,281.36 L183.52,282.20 L184.55,283.03 L185.58,283.86 L186.62,284.69 L187.66,285.52 L188.70,286.34 L189.75,287.16 L190.81,287.98 L191.87,288.80 L192.93,289.61 L194.00,290.42 L195.07,291.22 L196.15,292.03 L197.23,292.83 L198.32,293.62 L199.42,294.42 L200.51,295.21 L201.62,295.99 L202.72,296.78 L203.84,297.56 L204.95,298.33 L206.07,299.10 L207.20,299.87 L208.33,300.64 L209.47,301.40 L210.61,302.15 L211.75,302.90 L212.90,303.65 L214.06,304.40 L215.22,305.14 L216.38,305.87 L217.55,306.60 L218.73,307.33 L219.91,308.05 L221.09,308.77 L222.28,309.48 L223.47,310.19 L224.67,310.89 L225.87,311.59 L227.08,312.29 L228.29,312.98 L229.51,313.66 L230.73,314.34 L231.96,315.01 L233.19,315.68 L234.43,316.34 L235.67,317.00 L236.92,317.65 L238.17,318.30 L239.42,318.94 L240.68,319.58 L241.95,320.21 L243.22,320.83 L244.49,321.45 L245.77,322.07 L247.06,322.67 L248.34,323.27 L249.64,323.87 L250.94,324.46 L252.24,325.04 L253.55,325.62 L254.86,326.19 L256.18,326.76 L257.50,327.32 L258.83,327.87 L260.16,328.42 L261.50,328.97 L262.84,329.50 L264.19,330.04 L265.54,330.56 L266.89,331.08 L268.25,331.60 L269.62,332.10 L270.99,332.61 L272.37,333.10 L273.75,333.60 L275.13,334.08 L276.52,334.56 L277.91,335.04 L279.31,335.50 L280.72,335.97 L282.13,336.42 L283.54,336.87 L284.96,337.32 L286.38,337.76 L287.81,338.19 L289.24,338.62 L290.68,339.05 L292.12,339.46 L293.57,339.88 L295.02,340.28 L296.47,340.68 L297.94,341.08 L299.40,341.47 L300.87,341.85 L302.35,342.23 L303.83,342.61 L305.31,342.97 L306.80,343.34 L308.30,343.70 L309.80,344.05 L311.30,344.40 L312.81,344.74 L314.33,345.08 L315.84,345.42 L317.37,345.75 L318.90,346.07 L320.43,346.39 L321.97,346.71 L323.51,347.02 L325.06,347.32 L326.61,347.63 L328.17,347.92 L329.73,348.22 L331.29,348.50 L332.86,348.79 L334.44,349.07 L336.02,349.35 L337.61,349.62 L339.20,349.89 L340.79,350.15 L342.39,350.41 L344.00,350.67 L345.61,350.92 L347.22,351.17 L348.84,351.41 L350.46,351.66 L352.09,351.89 L353.73,352.13 L355.36,352.36 L357.01,352.59 L358.66,352.81 L360.31,353.03 L361.96,353.25 L363.63,353.46 L365.29,353.67 L366.97,353.88 L368.64,354.08 L370.32,354.28 L372.01,354.48 L373.70,354.68 L375.40,354.87 L377.10,355.06 L378.80,355.25 L380.51,355.43 L382.23,355.61 L383.95,355.79 L385.67,355.97 L387.40,356.14 L389.13,356.31 L390.87,356.48 L392.62,356.65 L394.36,356.81 L396.12,356.97 L397.87,357.13 L399.64,357.29 L401.40,357.45 L403.18,357.60 L404.95,357.75 L406.73,357.90 L408.52,358.05 L410.31,358.19 L412.11,358.34 L413.91,358.48 L415.72,358.62 L417.53,358.76 L419.34,358.89 L421.16,359.03 L422.99,359.16 L424.82,359.29 L426.65,359.42 L428.49,359.55 L430.33,359.67 L432.18,359.80 L434.03,359.92 L435.89,360.04 L437.76,360.16 L439.62,360.28 L441.50,360.39 L443.37,360.51 L445.26,360.62 L447.14,360.73 L449.03,360.84 L450.93,360.95 L452.83,361.05 L454.74,361.15 L456.65,361.26 L458.56,361.36 L460.49,361.46 L462.41,361.55 L464.34,361.65 L466.28,361.74 L468.21,361.84 L470.16,361.93 L472.11,362.02 L474.06,362.10 L476.02,362.19 L477.98,362.27 L479.95,362.36 L481.93,362.44 L483.90,362.52 L485.89,362.60 L487.87,362.67 L489.87,362.75 L491.86,362.82 L493.86,362.90 L495.87,362.97 L497.88,363.04 L499.90,363.10 L501.92,363.17 L503.94,363.23 L505.97,363.30 L508.01,363.36 L510.05,363.42 L512.09,363.48 L514.14,363.54 L516.20,363.59 L518.26,363.65 L520.32,363.70 L522.39,363.75 L524.46,363.80 L526.54,363.85 L528.63,363.90 L530.71,363.95 L532.81,363.99 L534.90,364.04 L537.01,364.08 L539.11,364.12 L541.22,364.16 L543.34,364.20 L545.46,364.23 L547.59,364.27 L549.72,364.30 L551.85,364.34 L553.99,364.37 L556.14,364.40 L558.29,364.43 L560.45,364.46 L562.60,364.48 L564.77,364.51 L566.94,364.53 L569.11,364.56 L571.29,364.58 L573.47,364.60 L575.66,364.63 L577.86,364.65 L580.05,364.67 L582.26,364.69 L584.46,364.70 L586.68,364.72 L588.89,364.74 L591.11,364.75 L593.34,364.77 L595.57,364.78 L597.81,364.80 L600.05,364.81 L602.29,364.83 L604.55,364.84 L606.80,364.85 L609.06,364.86 L611.33,364.88 L613.59,364.89 L615.87,364.90 L618.15,364.91 L620.43,364.92 L622.72,364.93 L625.01,364.94 L627.31,364.95 L629.62,364.96 L631.92,364.97 L634.24,364.98 L636.55,364.99 L638.88,365.00 L641.20,365.01 L643.53,365.02 L645.87,365.03 L648.21,365.04 L650.56,365.05 L652.91,365.06 L655.27,365.07 L657.63,365.09 L659.99,365.10 L662.36,365.11 L664.74,365.12 L667.12,365.14 L669.50,365.15" stroke="#ff00ff" stroke-dasharray="6 6.4"/>
<path d="M74.00,199.30 L74.00,199.30 L74.01,199.30 L74.02,199.30 L74.04,199.29 L74.06,199.29 L74.09,199.28 L74.12,199.27 L74.15,199.26 L74.19,199.25 L74.24,199.24 L74.29,199.23 L74.34,199.22 L74.40,199.21 L74.47,199.20 L74.54,199.19 L74.61,199.18 L74.69,199.17 L74.77,199.15 L74.86,199.14 L74.96,199.13 L75.05,199.12 L75.16,199.11 L75.27,199.10 L75.38,199.09 L75.49,199.08 L75.62,199.07 L75.74,199.07 L75.87,199.06 L76.01,199.06 L76.15,199.05 L76.30,199.05 L76.45,199.05 L76.60,199.05 L76.76,199.05 L76.93,199.06 L77.10,199.06 L77.27,199.07 L77.45,199.08 L77.64,199.09 L77.83,199.10 L78.02,199.12 L78.22,199.14 L78.42,199.16 L78.63,199.18 L78.84,199.20 L79.06,199.23 L79.28,199.26 L79.51,199.30 L79.74,199.33 L79.98,199.37 L80.22,199.42 L80.47,199.46 L80.72,199.51 L80.97,199.56 L81.23,199.62 L81.50,199.68 L81.77,199.74 L82.05,199.81 L82.33,199.88 L82.61,199.96 L82.90,200.04 L83.19,200.12 L83.49,200.21 L83.80,200.30 L84.10,200.40 L84.42,200.50 L84.74,200.60 L85.06,200.71 L85.39,200.83 L85.72,200.95 L86.06,201.07 L86.40,201.20 L86.74,201.34 L87.10,201.48 L87.45,201.63 L87.81,201.78 L88.18,201.93 L88.55,202.10 L88.93,202.26 L89.31,202.44 L89.69,202.62 L90.08,202.81 L90.48,203.00 L90.87,203.20 L91.28,203.40 L91.69,203.61 L92.10,203.83 L92.52,204.05 L92.94,204.28 L93.37,204.52 L93.80,204.77 L94.24,205.02 L94.68,205.28 L95.13,205.54 L95.58,205.82 L96.04,206.10 L96.50,206.38 L96.97,206.68 L97.44,206.98 L97.92,207.29 L98.40,207.61 L98.88,207.94 L99.37,208.27 L99.87,208.61 L100.37,208.96 L100.87,209.32 L101.38,209.69 L101.90,210.06 L102.41,210.45 L102.94,210.84 L103.47,211.24 L104.00,211.65 L104.54,212.07 L105.08,212.50 L105.63,212.93 L106.18,213.38 L106.74,213.83 L107.30,214.30 L107.87,214.77 L108.44,215.26 L109.01,215.75 L109.60,216.25 L110.18,216.77 L110.77,217.29 L111.37,217.82 L111.97,218.36 L112.57,218.91 L113.18,219.46 L113.80,220.03 L114.42,220.60 L115.04,221.18 L115.67,221.77 L116.30,222.36 L116.94,222.97 L117.59,223.58 L118.23,224.19 L118.89,224.81 L119.54,225.44 L120.21,226.07 L120.87,226.71 L121.55,227.36 L122.22,228.01 L122.90,228.66 L123.59,229.32 L124.28,229.99 L124.98,230.66 L125.68,231.33 L126.38,232.01 L127.09,232.69 L127.81,233.37 L128.53,234.06 L129.25,234.75 L129.98,235.44 L130.72,236.13 L131.46,236.83 L132.20,237.53 L132.95,238.23 L133.70,238.93 L134.46,239.64 L135.22,240.34 L135.99,241.05 L136.76,241.76 L137.54,242.46 L138.32,243.17 L139.11,243.89 L139.90,244.60 L140.70,245.32 L141.50,246.04 L142.31,246.76 L143.12,247.49 L143.93,248.22 L144.75,248.96 L145.58,249.70 L146.41,250.45 L147.24,251.21 L148.08,251.97 L148.93,252.74 L149.77,253.51 L150.63,254.29 L151.49,255.09 L152.35,255.88 L153.22,256.69 L154.09,257.51 L154.97,258.33 L155.85,259.16 L156.74,260.00 L157.63,260.84 L158.53,261.69 L159.43,262.54 L160.34,263.39 L161.25,264.26 L162.16,265.12 L163.08,265.99 L164.01,266.86 L164.94,267.73 L165.87,268.60 L166.81,269.48 L167.76,270.36 L168.71,271.23 L169.66,272.11 L170.62,272.99 L171.59,273.86 L172.55,274.74 L173.53,275.61 L174.51,276.48 L175.49,277.35 L176.48,278.21 L177.47,279.07 L178.47,279.93 L179.47,280.79 L180.47,281.64 L181.49,282.49 L182.50,283.33 L183.52,284.17 L184.55,285.01 L185.58,285.84 L186.62,286.67 L187.66,287.50 L188.70,288.33 L189.75,289.14 L190.81,289.96 L191.87,290.77 L192.93,291.58 L194.00,292.39 L195.07,293.19 L196.15,293.98 L197.23,294.78 L198.32,295.57 L199.42,296.35 L200.51,297.13 L201.62,297.91 L202.72,298.68 L203.84,299.45 L204.95,300.21 L206.07,300.97 L207.20,301.73 L208.33,302.48 L209.47,303.23 L210.61,303.97 L211.75,304.71 L212.90,305.44 L214.06,306.17 L215.22,306.90 L216.38,307.62 L217.55,308.33 L218.73,309.04 L219.91,309.75 L221.09,310.45 L222.28,311.14 L223.47,311.84 L224.67,312.52 L225.87,313.20 L227.08,313.88 L228.29,314.55 L229.51,315.22 L230.73,315.88 L231.96,316.54 L233.19,317.19 L234.43,317.84 L235.67,318.48 L236.92,319.11 L238.17,319.74 L239.42,320.37 L240.68,320.99 L241.95,321.60 L243.22,322.21 L244.49,322.82 L245.77,323.41 L247.06,324.01 L248.34,324.59 L249.64,325.17 L250.94,325.75 L252.24,326.32 L253.55,326.88 L254.86,327.44 L256.18,328.00 L257.50,328.55 L258.83,329.09 L260.16,329.62 L261.50,330.16 L262.84,330.68 L264.19,331.20 L265.54,331.72 L266.89,332.23 L268.25,332.73 L269.62,333.23 L270.99,333.72 L272.37,334.20 L273.75,334.69 L275.13,335.16 L276.52,335.63 L277.91,336.09 L279.31,336.55 L280.72,337.01 L282.13,337.45 L283.54,337.90 L284.96,338.33 L286.38,338.76 L287.81,339.19 L289.24,339.61 L290.68,340.02 L292.12,340.43 L293.57,340.83 L295.02,341.23 L296.47,341.62 L297.94,342.00 L299.40,342.38 L300.87,342.76 L302.35,343.13 L303.83,343.49 L305.31,343.85 L306.80,344.21 L308.30,344.55 L309.80,344.90 L311.30,345.24 L312.81,345.57 L314.33,345.90 L315.84,346.23 L317.37,346.55 L318.90,346.86 L320.43,347.17 L321.97,347.48 L323.51,347.78 L325.06,348.08 L326.61,348.37 L328.17,348.66 L329.73,348.94 L331.29,349.22 L332.86,349.50 L334.44,349.77 L336.02,350.04 L337.61,350.30 L339.20,350.56 L340.79,350.81 L342.39,351.06 L344.00,351.31 L345.61,351.55 L347.22,351.79 L348.84,352.03 L350.46,352.26 L352.09,352.49 L353.73,352.72 L355.36,352.94 L357.01,353.16 L358.66,353.37 L360.31,353.58 L361.96,353.79 L363.63,354.00 L365.29,354.20 L366.97,354.40 L368.64,354.60 L370.32,354.79 L372.01,354.98 L373.70,355.17 L375.40,355.35 L377.10,355.53 L378.80,355.71 L380.51,355.89 L382.23,356.06 L383.95,356.23 L385.67,356.40 L387.40,356.56 L389.13,356.73 L390.87,356.89 L392.62,357.05 L394.36,357.20 L396.12,357.36 L397.87,357.51 L399.64,357.66 L401.40,357.81 L403.18,357.95 L404.95,358.10 L406.73,358.24 L408.52,358.38 L410.31,358.51 L412.11,358.65 L413.91,358.79 L415.72,358.92 L417.53,359.05 L419.34,359.18 L421.16,359.31 L422.99,359.43 L424.82,359.56 L426.65,359.68 L428.49,359.80 L430.33,359.92 L432.18,360.04 L434.03,360.15 L435.89,360.27 L437.76,360.38 L439.62,360.49 L441.50,360.60 L443.37,360.71 L445.26,360.82 L447.14,360.92 L449.03,361.02 L450.93,361.12 L452.83,361.22 L454.74,361.32 L456.65,361.42 L458.56,361.52 L460.49,361.61 L462.41,361.70 L464.34,361.79 L466.28,361.88 L468.21,361.97 L470.16,362.05 L472.11,362.14 L474.06,362.22 L476.02,362.30 L477.98,362.39 L479.95,362.46 L481.93,362.54 L483.90,362.62 L485.89,362.69 L487.87,362.77 L489.87,362.84 L491.86,362.91 L493.86,362.98 L495.87,363.04 L497.88,363.11 L499.90,363.18 L501.92,363.24 L503.94,363.30 L505.97,363.36 L508.01,363.42 L510.05,363.48 L512.09,363.54 L514.14,363.59 L516.20,363.65 L518.26,363.70 L520.32,363.75 L522.39,363.80 L524.46,363.85 L526.54,363.90 L528.63,363.95 L530.71,363.99 L532.81,364.04 L534.90,364.08 L537.01,364.12 L539.11,364.16 L541.22,364.20 L543.34,364.24 L545.46,364.28 L547.59,364.31 L549.72,364.35 L551.85,364.38 L553.99,364.41 L556.14,364.45 L558.29,364.48 L560.45,364.51 L562.60,364.53 L564.77,364.56 L566.94,364.59 L569.11,364.61 L571.29,364.64 L573.47,364.66 L575.66,364.69 L577.86,364.71 L580.05,364.73 L582.26,364.75 L584.46,364.77 L586.68,364.79 L588.89,364.81 L591.11,364.82 L593.34,364.84 L595.57,364.86 L597.81,364.87 L600.05,364.89 L602.29,364.90 L604.55,364.91 L606.80,364.93 L609.06,364.94 L611.33,364.95 L613.59,364.96 L615.87,364.97 L618.15,364.98 L620.43,364.99 L622.72,365.00 L625.01,365.01 L627.31,365.02 L629.62,365.03 L631.92,365.04 L634.24,365.05 L636.55,365.05 L638.88,365.06 L641.20,365.07 L643.53,365.07 L645.87,365.08 L648.21,365.09 L650.56,365.09 L652.91,365.10 L655.27,365.11 L657.63,365.11 L659.99,365.12 L662.36,365.12 L664.74,365.13 L667.12,365.13 L669.50,365.14" stroke="#0000ff" stroke-dasharray="6 6.4"/>
<path d="M74.00,199.30 L74.00,199.31 L74.01,199.32 L74.02,199.32 L74.04,199.33 L74.06,199.33 L74.09,199.34 L74.12,199.34 L74.15,199.34 L74.19,199.34 L74.24,199.34 L74.29,199.34 L74.34,199.34 L74.40,199.34 L74.47,199.34 L74.54,199.33 L74.61,199.33 L74.69,199.33 L74.77,199.33 L74.86,199.33 L74.96,199.32 L75.05,199.32 L75.16,199.32 L75.27,199.32 L75.38,199.32 L75.49,199.32 L75.62,199.33 L75.74,199.33 L75.87,199.33 L76.01,199.34 L76.15,199.34 L76.30,199.35 L76.45,199.36 L76.60,199.37 L76.76,199.38 L76.93,199.40 L77.10,199.41 L77.27,199.43 L77.45,199.45 L77.64,199.47 L77.83,199.50 L78.02,199.52 L78.22,199.55 L78.42,199.58 L78.63,199.61 L78.84,199.65 L79.06,199.69 L79.28,199.73 L79.51,199.78 L79.74,199.82 L79.98,199.87 L80.22,199.93 L80.47,199.98 L80.72,200.05 L80.97,200.11 L81.23,200.18 L81.50,200.25 L81.77,200.32 L82.05,200.40 L82.33,200.48 L82.61,200.57 L82.90,200.66 L83.19,200.76 L83.49,200.86 L83.80,200.96 L84.10,201.07 L84.42,201.18 L84.74,201.30 L85.06,201.42 L85.39,201.55 L85.72,201.69 L86.06,201.82 L86.40,201.97 L86.74,202.11 L87.10,202.27 L87.45,202.43 L87.81,202.59 L88.18,202.76 L88.55,202.94 L88.93,203.12 L89.31,203.31 L89.69,203.50 L90.08,203.70 L90.48,203.91 L90.87,204.12 L91.28,204.34 L91.69,204.57 L92.10,204.80 L92.52,205.04 L92.94,205.28 L93.37,205.53 L93.80,205.79 L94.24,206.06 L94.68,206.33 L95.13,206.62 L95.58,206.90 L96.04,207.20 L96.50,207.50 L96.97,207.81 L97.44,208.13 L97.92,208.46 L98.40,208.79 L98.88,209.14 L99.37,209.49 L99.87,209.85 L100.37,210.21 L100.87,210.59 L101.38,210.97 L101.90,211.37 L102.41,211.77 L102.94,212.18 L103.47,212.60 L104.00,213.03 L104.54,213.46 L105.08,213.91 L105.63,214.36 L106.18,214.83 L106.74,215.30 L107.30,215.79 L107.87,216.28 L108.44,216.78 L109.01,217.30 L109.60,217.82 L110.18,218.35 L110.77,218.90 L111.37,219.45 L111.97,220.01 L112.57,220.57 L113.18,221.15 L113.80,221.74 L114.42,222.33 L115.04,222.93 L115.67,223.53 L116.30,224.15 L116.94,224.77 L117.59,225.39 L118.23,226.03 L118.89,226.66 L119.54,227.31 L120.21,227.96 L120.87,228.61 L121.55,229.27 L122.22,229.93 L122.90,230.60 L123.59,231.27 L124.28,231.94 L124.98,232.62 L125.68,233.30 L126.38,233.98 L127.09,234.67 L127.81,235.35 L128.53,236.04 L129.25,236.73 L129.98,237.42 L130.72,238.12 L131.46,238.81 L132.20,239.50 L132.95,240.20 L133.70,240.89 L134.46,241.59 L135.22,242.28 L135.99,242.97 L136.76,243.66 L137.54,244.35 L138.32,245.04 L139.11,245.74 L139.90,246.43 L140.70,247.12 L141.50,247.82 L142.31,248.53 L143.12,249.23 L143.93,249.94 L144.75,250.66 L145.58,251.38 L146.41,252.11 L147.24,252.85 L148.08,253.59 L148.93,254.35 L149.77,255.11 L150.63,255.88 L151.49,256.67 L152.35,257.46 L153.22,258.27 L154.09,259.08 L154.97,259.91 L155.85,260.74 L156.74,261.58 L157.63,262.44 L158.53,263.29 L159.43,264.16 L160.34,265.03 L161.25,265.90 L162.16,266.78 L163.08,267.67 L164.01,268.56 L164.94,269.45 L165.87,270.34 L166.81,271.23 L167.76,272.13 L168.71,273.03 L169.66,273.92 L170.62,274.82 L171.59,275.71 L172.55,276.60 L173.53,277.49 L174.51,278.37 L175.49,279.26 L176.48,280.13 L177.47,281.01 L178.47,281.87 L179.47,282.74 L180.47,283.60 L181.49,284.45 L182.50,285.30 L183.52,286.15 L184.55,286.99 L185.58,287.83 L186.62,288.66 L187.66,289.49 L188.70,290.31 L189.75,291.13 L190.81,291.94 L191.87,292.75 L192.93,293.55 L194.00,294.35 L195.07,295.15 L196.15,295.94 L197.23,296.73 L198.32,297.51 L199.42,298.28 L200.51,299.06 L201.62,299.82 L202.72,300.58 L203.84,301.34 L204.95,302.10 L206.07,302.84 L207.20,303.59 L208.33,304.32 L209.47,305.06 L210.61,305.79 L211.75,306.51 L212.90,307.23 L214.06,307.94 L215.22,308.65 L216.38,309.36 L217.55,310.06 L218.73,310.75 L219.91,311.44 L221.09,312.13 L222.28,312.81 L223.47,313.48 L224.67,314.15 L225.87,314.82 L227.08,315.48 L228.29,316.13 L229.51,316.78 L230.73,317.42 L231.96,318.06 L233.19,318.70 L234.43,319.33 L235.67,319.95 L236.92,320.57 L238.17,321.18 L239.42,321.79 L240.68,322.40 L241.95,323.00 L243.22,323.59 L244.49,324.18 L245.77,324.76 L247.06,325.34 L248.34,325.91 L249.64,326.48 L250.94,327.04 L252.24,327.60 L253.55,328.15 L254.86,328.69 L256.18,329.23 L257.50,329.77 L258.83,330.30 L260.16,330.83 L261.50,331.34 L262.84,331.86 L264.19,332.37 L265.54,332.87 L266.89,333.37 L268.25,333.86 L269.62,334.35 L270.99,334.83 L272.37,335.31 L273.75,335.78 L275.13,336.24 L276.52,336.70 L277.91,337.15 L279.31,337.60 L280.72,338.05 L282.13,338.48 L283.54,338.92 L284.96,339.34 L286.38,339.76 L287.81,340.18 L289.24,340.59 L290.68,340.99 L292.12,341.39 L293.57,341.78 L295.02,342.17 L296.47,342.55 L297.94,342.93 L299.40,343.30 L300.87,343.66 L302.35,344.02 L303.83,344.38 L305.31,344.73 L306.80,345.07 L308.30,345.41 L309.80,345.75 L311.30,346.08 L312.81,346.40 L314.33,346.72 L315.84,347.04 L317.37,347.35 L318.90,347.65 L320.43,347.95 L321.97,348.25 L323.51,348.54 L325.06,348.83 L326.61,349.11 L328.17,349.39 L329.73,349.67 L331.29,349.94 L332.86,350.20 L334.44,350.47 L336.02,350.72 L337.61,350.98 L339.20,351.23 L340.79,351.47 L342.39,351.72 L344.00,351.96 L345.61,352.19 L347.22,352.42 L348.84,352.65 L350.46,352.87 L352.09,353.09 L353.73,353.31 L355.36,353.52 L357.01,353.73 L358.66,353.94 L360.31,354.14 L361.96,354.34 L363.63,354.54 L365.29,354.73 L366.97,354.92 L368.64,355.11 L370.32,355.29 L372.01,355.47 L373.70,355.65 L375.40,355.83 L377.10,356.00 L378.80,356.17 L380.51,356.34 L382.23,356.51 L383.95,356.67 L385.67,356.83 L387.40,356.99 L389.13,357.14 L390.87,357.29 L392.62,357.44 L394.36,357.59 L396.12,357.74 L397.87,357.88 L399.64,358.03 L401.40,358.17 L403.18,358.30 L404.95,358.44 L406.73,358.57 L408.52,358.71 L410.31,358.84 L412.11,358.97 L413.91,359.09 L415.72,359.22 L417.53,359.34 L419.34,359.47 L421.16,359.59 L422.99,359.71 L424.82,359.82 L426.65,359.94 L428.49,360.05 L430.33,360.17 L432.18,360.28 L434.03,360.39 L435.89,360.50 L437.76,360.60 L439.62,360.71 L441.50,360.81 L443.37,360.91 L445.26,361.01 L447.14,361.11 L449.03,361.21 L450.93,361.30 L452.83,361.40 L454.74,361.49 L456.65,361.58 L458.56,361.67 L460.49,361.76 L462.41,361.85 L464.34,361.93 L466.28,362.02 L468.21,362.10 L470.16,362.18 L472.11,362.26 L474.06,362.34 L476.02,362.42 L477.98,362.50 L479.95,362.57 L481.93,362.64 L483.90,362.72 L485.89,362.79 L487.87,362.86 L489.87,362.92 L491.86,362.99 L493.86,363.06 L495.87,363.12 L497.88,363.18 L499.90,363.25 L501.92,363.31 L503.94,363.37 L505.97,363.43 L508.01,363.48 L510.05,363.54 L512.09,363.59 L514.14,363.65 L516.20,363.70 L518.26,363.75 L520.32,363.80 L522.39,363.85 L524.46,363.90 L526.54,363.95 L528.63,363.99 L530.71,364.04 L532.81,364.08 L534.90,364.12 L537.01,364.16 L539.11,364.20 L541.22,364.24 L543.34,364.28 L545.46,364.32 L547.59,364.36 L549.72,364.39 L551.85,364.43 L553.99,364.46 L556.14,364.49 L558.29,364.52 L560.45,364.55 L562.60,364.58 L564.77,364.61 L566.94,364.64 L569.11,364.67 L571.29,364.69 L573.47,364.72 L575.66,364.74 L577.86,364.77 L580.05,364.79 L582.26,364.81 L584.46,364.83 L586.68,364.85 L588.89,364.87 L591.11,364.89 L593.34,364.91 L595.57,364.93 L597.81,364.94 L600.05,364.96 L602.29,364.97 L604.55,364.99 L606.80,365.00 L609.06,365.01 L611.33,365.03 L613.59,365.04 L615.87,365.05 L618.15,365.06 L620.43,365.07 L622.72,365.08 L625.01,365.08 L627.31,365.09 L629.62,365.10 L631.92,365.11 L634.24,365.11 L636.55,365.12 L638.88,365.12 L641.20,365.12 L643.53,365.13 L645.87,365.13 L648.21,365.13 L650.56,365.13 L652.91,365.14 L655.27,365.14 L657.63,365.14 L659.99,365.14 L662.36,365.13 L664.74,365.13 L667.12,365.13 L669.50,365.13" stroke="#000000" stroke-dasharray="6 6.4"/>
</g>
<path d="M216.2,86.1 L119.8,268.3" stroke="#000" stroke-width="0.9" fill="none"/>
<path d="M107.8,290.0 L114.3,262.2 Q115.8,266.6 119.6,267.8 Q123.2,269.6 127.3,268.8 Z" fill="#000"/>
<g font-family="'Liberation Sans', sans-serif" font-size="21.6" fill="#000">
<text x="74.6" y="406.4" text-anchor="middle">0.0</text>
<text x="59.2" y="372.3" text-anchor="end">0.0</text>
<text x="223.4" y="406.4" text-anchor="middle">0.5</text>
<text x="59.2" y="287.5" text-anchor="end">0.5</text>
<text x="372.2" y="406.4" text-anchor="middle">1.0</text>
<text x="59.2" y="202.6" text-anchor="end">1.0</text>
<text x="521.1" y="406.4" text-anchor="middle">1.5</text>
<text x="59.2" y="117.8" text-anchor="end">1.5</text>
<text x="669.9" y="406.4" text-anchor="middle">2.0</text>
<text x="59.2" y="33.0" text-anchor="end">2.0</text>
</g>
<text x="372.2" y="436.5" stroke="#000" stroke-width="0.25" text-anchor="middle" font-family="'DejaVu Serif', 'Liberation Serif', serif" font-style="italic" font-size="21.5">ζ</text>
<text transform="translate(18.6,220) rotate(-90)" font-family="'Liberation Sans', sans-serif" font-size="22"><tspan x="-0.8">u</tspan><tspan x="11.1" y="-1.2">(</tspan><tspan x="19.0" y="-1.2" font-family="'DejaVu Serif', serif" font-style="italic" font-size="21">ζ</tspan><tspan x="30.6" y="0">,</tspan><tspan x="37.6" y="-1.4" font-family="'DejaVu Serif', serif" font-style="italic" font-size="19.5">τ</tspan><tspan x="48.1" y="-1.2">)</tspan></text>
<g font-family="'Liberation Serif', serif" font-size="16.5" fill="#000">
<text x="304.6" y="49.5"><tspan font-weight="bold">Solid Line:</tspan> Isothermal Wall (<tspan font-style="italic">τ=1.5</tspan>)</text>
<text x="304.6" y="94.9"><tspan font-weight="bold">Dashed:</tspan> Ramped Wall (<tspan font-style="italic">τ=0.5</tspan>)</text>
</g>
<rect x="589.5" y="7.5" width="89" height="215" fill="#fff" stroke="#484848" stroke-width="1"/>
<g font-family="'Liberation Sans', sans-serif" font-style="italic" font-size="22" stroke-width="0.3">
<g fill="#ff0000" stroke="#ff0000"><text transform="translate(609.0,30.2) scale(1.33,1)" font-size="22" stroke="none">γ</text><text x="625.5" y="32.5" font-size="23.5" stroke-width="0.3">=</text><text x="639.4" y="30.5" font-size="22.4" stroke-width="0.15">0</text></g>
<g fill="#ff00ff" stroke="#ff00ff"><text transform="translate(609.0,56.4) scale(1.33,1)" font-size="22" stroke="none">γ</text><text x="625.5" y="58.7" font-size="23.5" stroke-width="0.3">=</text><text x="639.4" y="56.7" font-size="22.4" stroke-width="0.15">1</text></g>
<g fill="#0000ff" stroke="#0000ff"><text transform="translate(609.0,82.6) scale(1.33,1)" font-size="22" stroke="none">γ</text><text x="625.5" y="84.9" font-size="23.5" stroke-width="0.3">=</text><text x="639.4" y="82.9" font-size="22.4" stroke-width="0.15">2</text></g>
<g fill="#000000" stroke="#000000"><text transform="translate(609.0,108.8) scale(1.33,1)" font-size="22" stroke="none">γ</text><text x="625.5" y="111.1" font-size="23.5" stroke-width="0.3">=</text><text x="639.4" y="109.1" font-size="22.4" stroke-width="0.15">3</text></g>
<g fill="#ff0000" stroke="#ff0000"><text transform="translate(609.0,135.0) scale(1.33,1)" font-size="22" stroke="none">γ</text><text x="625.5" y="137.3" font-size="23.5" stroke-width="0.3">=</text><text x="639.4" y="135.3" font-size="22.4" stroke-width="0.15">0</text></g>
<g fill="#ff00ff" stroke="#ff00ff"><text transform="translate(609.0,161.2) scale(1.33,1)" font-size="22" stroke="none">γ</text><text x="625.5" y="163.5" font-size="23.5" stroke-width="0.3">=</text><text x="639.4" y="161.5" font-size="22.4" stroke-width="0.15">1</text></g>
<g fill="#0000ff" stroke="#0000ff"><text transform="translate(609.0,187.4) scale(1.33,1)" font-size="22" stroke="none">γ</text><text x="625.5" y="189.7" font-size="23.5" stroke-width="0.3">=</text><text x="639.4" y="187.7" font-size="22.4" stroke-width="0.15">2</text></g>
<g fill="#000000" stroke="#000000"><text transform="translate(609.0,213.6) scale(1.33,1)" font-size="22" stroke="none">γ</text><text x="625.5" y="215.9" font-size="23.5" stroke-width="0.3">=</text><text x="639.4" y="213.9" font-size="22.4" stroke-width="0.15">3</text></g>
</g>
</svg>
</body></html>
